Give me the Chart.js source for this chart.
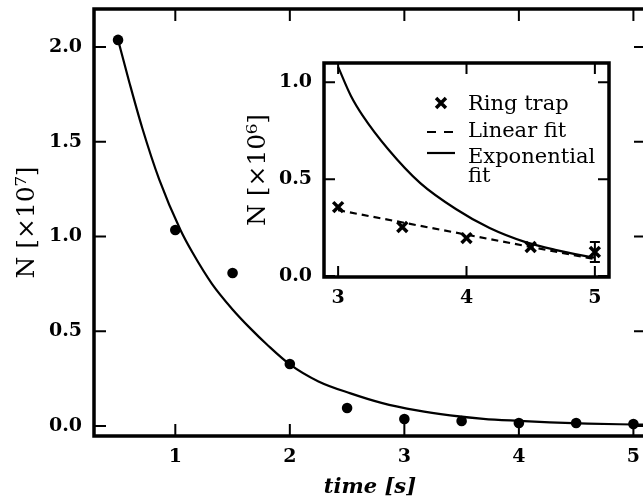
<!DOCTYPE html>
<html>
<head>
<meta charset="utf-8">
<script src="https://cdn.jsdelivr.net/npm/chart.js@4.4.0/dist/chart.umd.min.js"></script>
<style>
  html, body { margin: 0; padding: 0; background: #fff; overflow: hidden; }
  #wrap { position: relative; width: 643px; height: 500px; overflow: hidden; }
  #mainChart { position: absolute; left: 0; top: 0; }
  #insetChart { position: absolute; left: 220px; top: 40px; }
</style>
</head>
<body>
<div id="wrap">
  <canvas id="mainChart" width="660" height="500"></canvas>
  <canvas id="insetChart" width="410" height="290"></canvas>
</div>
<script>
// main plot, N in units of 1e7
const mainTimes = [0.5, 1, 1.5, 2, 2.5, 3, 3.5, 4, 4.5, 5];
const mainCounts = [2.037, 1.034, 0.807, 0.327, 0.095, 0.037, 0.026, 0.016, 0.016, 0.010];
const mainFitTimes = [0.5, 0.6, 0.71, 0.86, 1.045, 1.15, 1.32, 1.5, 1.655, 1.8, 2.0, 2.25, 2.53, 2.8, 3.11, 3.4, 3.69, 4.0, 4.27, 4.6, 5.0, 5.11];
const mainFitCounts = [2.037, 1.81, 1.575, 1.30, 1.034, 0.915, 0.75, 0.615, 0.515, 0.43, 0.325, 0.235, 0.172, 0.122, 0.082, 0.056, 0.038, 0.027, 0.019, 0.012, 0.008, 0.007];
const mainXTicks = [1, 2, 3, 4, 5];
const mainYTicks = [0, 0.5, 1.0, 1.5, 2.0];

// inset (ring trap), N in units of 1e6
const ringTimes = [3, 3.5, 4, 4.5, 5];
const ringCounts = [0.356, 0.253, 0.196, 0.150, 0.124];
const ringErrors = [0, 0, 0, 0, 0.052];
const linFitTimes = [3, 5];
const linFitCounts = [0.34, 0.087];
const expFitTimes = [3, 3.1, 3.19, 3.39, 3.64, 3.92, 4.18, 4.46, 4.7, 4.97, 5];
const expFitCounts = [1.08, 0.93, 0.83, 0.655, 0.48, 0.345, 0.248, 0.175, 0.134, 0.098, 0.095];
const insetXTicks = [3, 4, 5];
const insetYTicks = [0, 0.5, 1.0];

const xy = (xs, ys) => xs.map((x, i) => ({x: x, y: ys[i]}));

Chart.defaults.font.family = '"DejaVu Serif", serif';
Chart.defaults.color = '#000';

const tickFont = {size: 19, weight: 'bold'};

// box + inward ticks on all four sides
const framePlugin = {
    id: 'frame',
    beforeDatasetsDraw(chart, args, opts) {
        const {ctx, chartArea: a, scales} = chart;
        ctx.save();
        ctx.fillStyle = '#fff';
        ctx.fillRect(a.left, a.top, a.width, a.height);
        ctx.strokeStyle = '#000';
        ctx.lineWidth = 2;
        ctx.beginPath();
        scales.x.ticks.forEach(t => {
            const px = scales.x.getPixelForValue(t.value);
            ctx.moveTo(px, a.bottom); ctx.lineTo(px, a.bottom - opts.len);
            ctx.moveTo(px, a.top); ctx.lineTo(px, a.top + opts.len);
        });
        scales.y.ticks.forEach(t => {
            const py = scales.y.getPixelForValue(t.value);
            ctx.moveTo(a.left, py); ctx.lineTo(a.left + opts.len, py);
            ctx.moveTo(a.right, py); ctx.lineTo(a.right - opts.len, py);
        });
        ctx.stroke();
        ctx.lineWidth = 3.5;
        ctx.strokeRect(a.left, a.top, a.width, a.height);
        ctx.restore();
    }
};

const errorBars = {
    id: 'errorBars',
    afterDatasetsDraw(chart) {
        const {ctx, scales: {x, y}} = chart;
        ctx.save();
        ctx.strokeStyle = '#000';
        ctx.lineWidth = 2;
        ringTimes.forEach((t, i) => {
            if (!ringErrors[i]) return;
            const px = x.getPixelForValue(t);
            const top = y.getPixelForValue(ringCounts[i] + ringErrors[i]);
            const bot = y.getPixelForValue(ringCounts[i] - ringErrors[i]);
            ctx.beginPath();
            ctx.moveTo(px, top); ctx.lineTo(px, bot);
            ctx.moveTo(px - 5, top); ctx.lineTo(px + 5, top);
            ctx.moveTo(px - 5, bot); ctx.lineTo(px + 5, bot);
            ctx.stroke();
        });
        ctx.restore();
    }
};

const insetLegend = {
    id: 'insetLegend',
    afterDatasetsDraw(chart, args, opts) {
        const {ctx, chartArea: a} = chart;
        ctx.save();
        ctx.font = '21px "DejaVu Serif"';
        ctx.fillStyle = '#000';
        ctx.strokeStyle = '#000';
        ctx.textBaseline = 'alphabetic';
        ctx.textAlign = 'left';
        opts.rows.forEach(r => {
            const ds = chart.data.datasets[r.ds];
            const sy = a.top + r.y;
            ctx.lineWidth = ds.borderWidth;
            if (ds.pointStyle === 'crossRot') {
                Chart.helpers.drawPoint(ctx, {pointStyle: 'crossRot', radius: ds.pointRadius, borderWidth: ds.borderWidth}, a.left + 117, sy);
            } else {
                ctx.setLineDash(r.dash || []);
                ctx.beginPath();
                ctx.moveTo(a.left + 103, sy);
                ctx.lineTo(a.left + 131, sy);
                ctx.stroke();
                ctx.setLineDash([]);
            }
            ds.label.split('\n').forEach((line, k) => {
                ctx.fillText(line, a.left + 144, a.top + r.lines[k]);
            });
        });
        ctx.restore();
    }
};

function xAxis(min, max, tickValues, height, title) {
    return {
        type: 'linear', position: 'bottom', min: min, max: max,
        afterBuildTicks: s => { s.ticks = tickValues.map(v => ({value: v})); },
        afterFit: s => { s.height = height; s.paddingLeft = 0; s.paddingRight = 0; },
        grid: {display: false, drawTicks: false},
        border: {display: false},
        ticks: {font: tickFont, padding: 10, callback: v => String(v)},
        title: title
    };
}

function yAxis(min, max, tickValues, width, title) {
    return {
        type: 'linear', position: 'left', min: min, max: max,
        afterBuildTicks: s => { s.ticks = tickValues.map(v => ({value: v})); },
        afterFit: s => { s.width = width; s.paddingTop = 0; s.paddingBottom = 0; },
        grid: {display: false, drawTicks: false},
        border: {display: false},
        ticks: {font: tickFont, padding: 12, callback: v => v.toFixed(1)},
        title: title
    };
}

new Chart(document.getElementById('mainChart'), {
    type: 'scatter',
    data: {
        datasets: [{
            label: 'Data',
            data: xy(mainTimes, mainCounts),
            pointRadius: 5.3,
            backgroundColor: '#000',
            borderWidth: 0
        }, {
            label: 'Exponential fit',
            data: xy(mainFitTimes, mainFitCounts),
            showLine: true,
            borderColor: '#000',
            borderWidth: 2.2,
            pointRadius: 0,
            cubicInterpolationMode: 'monotone'
        }]
    },
    options: {
        responsive: false,
        animation: false,
        layout: {padding: {left: 0, top: 9, right: 14, bottom: 0}},
        scales: {
            x: xAxis(0.29, 5.11, mainXTicks, 64, {
                display: true, text: 'time [s]',
                font: {size: 21, weight: 'bold', style: 'italic'},
                padding: {top: 0, bottom: 0}
            }),
            y: yAxis(-0.0528, 2.2, mainYTicks, 94, {
                display: true, text: 'N [×10⁷]',
                font: {size: 25, weight: 'normal'},
                padding: {top: 12, bottom: 0}
            })
        },
        plugins: {
            legend: {display: false},
            tooltip: {enabled: false},
            frame: {len: 12}
        }
    },
    plugins: [framePlugin]
});

new Chart(document.getElementById('insetChart'), {
    type: 'scatter',
    data: {
        datasets: [{
            label: 'Ring trap',
            data: xy(ringTimes, ringCounts),
            pointStyle: 'crossRot',
            pointRadius: 7,
            borderWidth: 3.5,
            borderColor: '#000'
        }, {
            label: 'Exponential\nfit',
            data: xy(expFitTimes, expFitCounts),
            showLine: true,
            borderColor: '#000',
            borderWidth: 2.2,
            pointRadius: 0,
            cubicInterpolationMode: 'monotone'
        }, {
            label: 'Linear fit',
            data: xy(linFitTimes, linFitCounts),
            showLine: true,
            borderColor: '#000',
            borderWidth: 2.2,
            borderDash: [7, 5],
            pointRadius: 0
        }]
    },
    options: {
        responsive: false,
        animation: false,
        layout: {padding: {left: 0, top: 23, right: 21, bottom: 0}},
        scales: {
            x: xAxis(2.89, 5.11, insetXTicks, 53, {display: false}),
            y: yAxis(-0.005, 1.1, insetYTicks, 104, {
                display: true, text: 'N [×10⁶]',
                font: {size: 25, weight: 'normal'},
                padding: {top: 23, bottom: 0}
            })
        },
        plugins: {
            legend: {display: false},
            tooltip: {enabled: false},
            frame: {len: 11},
            insetLegend: {
                rows: [
                    {ds: 0, y: 40, lines: [47]},
                    {ds: 2, y: 69, lines: [74], dash: [9, 8]},
                    {ds: 1, y: 90, lines: [100, 119]}
                ]
            }
        }
    },
    plugins: [framePlugin, errorBars, insetLegend]
});
</script>
</body>
</html>
